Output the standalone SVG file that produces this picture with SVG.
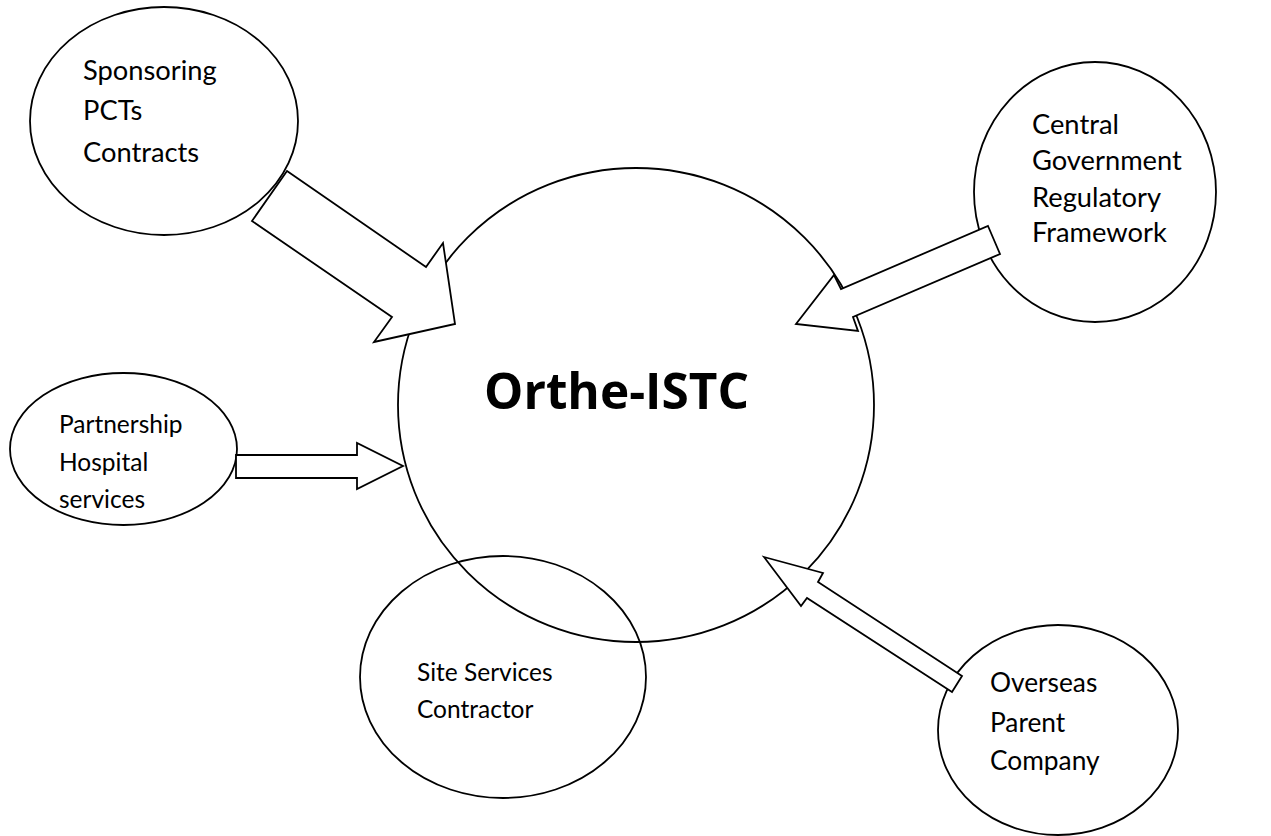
<svg xmlns="http://www.w3.org/2000/svg" width="1271" height="836" viewBox="0 0 1271 836">
<style>
.node{fill:none;stroke:#000;stroke-width:1.8}
.arrow{fill:#fff;stroke:#000;stroke-width:1.8;stroke-linejoin:miter}
.lbl{font-family:Lato,"Open Sans","Liberation Sans",sans-serif;font-size:27.3px;fill:#000}
.sm{font-size:24.5px}
.title{font-family:"Open Sans",Lato,"Liberation Sans",sans-serif;font-size:49.5px;font-weight:bold;fill:#000}
</style>
<rect width="1271" height="836" fill="#fff"/>
<g id="center">
<ellipse class="node" cx="636" cy="405" rx="238" ry="237"/>
<text class="title" x="484" y="409">Orthe-ISTC</text>
</g>
<g id="sponsoring">
<ellipse class="node" cx="164" cy="121" rx="134" ry="114"/>
<text class="lbl" x="83" y="80">Sponsoring</text>
<text class="lbl" x="83" y="120">PCTs</text>
<text class="lbl" x="83" y="162">Contracts</text>
</g>
<g id="central-government">
<ellipse class="node" cx="1095" cy="192" rx="121" ry="130"/>
<text class="lbl" x="1032" y="134">Central</text>
<text class="lbl" x="1032" y="170">Government</text>
<text class="lbl" x="1032" y="207">Regulatory</text>
<text class="lbl" x="1032" y="242">Framework</text>
</g>
<g id="partnership">
<ellipse class="node" cx="123.5" cy="449" rx="113.5" ry="76"/>
<text class="lbl sm" x="59" y="433">Partnership</text>
<text class="lbl sm" x="59" y="471">Hospital</text>
<text class="lbl sm" x="59" y="508">services</text>
</g>
<g id="site-services">
<ellipse class="node" cx="503" cy="677" rx="143" ry="121"/>
<text class="lbl sm" x="417" y="681">Site Services</text>
<text class="lbl sm" x="417" y="718">Contractor</text>
</g>
<g id="overseas">
<ellipse class="node" cx="1058" cy="730" rx="120" ry="105"/>
<text class="lbl" x="990" y="692" style="font-size:26.3px">Overseas</text>
<text class="lbl" x="990" y="732" style="font-size:26.3px">Parent</text>
<text class="lbl" x="990" y="770" style="font-size:26.3px">Company</text>
</g>
<g id="connectors">
<polygon class="arrow" points="287,171 426,267 443,243 455,324 374,342 392,317 252,221"/>
<polygon class="arrow" points="988,226 1000,254 853,317 858,331 796,324 834,275 841,289"/>
<polygon class="arrow" points="236,455 357,455 357,443 403,466 357,489 357,478 236,478"/>
<polygon class="arrow" points="764,557 823,573 818,582 962,676 952,692 807,598 801,606"/>
</g>
</svg>
